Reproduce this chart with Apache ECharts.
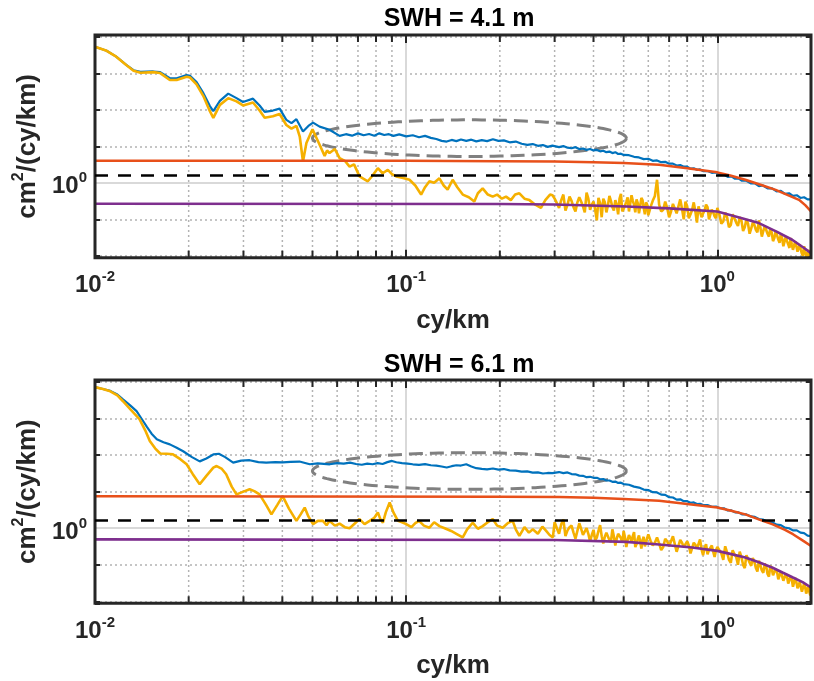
<!DOCTYPE html>
<html><head><meta charset="utf-8">
<script src="https://cdn.jsdelivr.net/npm/echarts@6/dist/echarts.min.js"></script>
<style>html,body{margin:0;padding:0;background:#fff}#c{width:814px;height:681px}</style>
</head><body><div id="c"></div>
<script>
const FONT = '"Liberation Sans", Arial, Helvetica, sans-serif';
const panelTitles = ['SWH = 4.1 m', 'SWH = 6.1 m'];
const xName = 'cy/km';
const xRange = [0.01, 2];
const yRange = [0.241, 16.6];
const xMinorGrid = [0.02,0.03,0.04,0.05,0.06,0.07,0.08,0.09,0.2,0.3,0.4,0.5,0.6,0.7,0.8,0.9];

// frequency grids of the noisy high-frequency part of the yellow spectra (two interleaved sets)
const hfFreq = [0.30,0.31,0.32,0.33,0.34,0.35,0.36,0.37,0.38,0.39,0.40,0.41,0.42,0.43,0.44,0.45,0.46,0.47,0.48,0.49,0.50,0.51,0.52,0.53,0.54,0.55,0.56,0.57,0.58,0.59,0.60,
  0.62,0.64,0.66,0.68,0.70,0.72,0.74,0.76,0.78,0.80,0.82,0.84,0.86,0.88,0.90,0.92,0.94,0.96,0.98,1.00,
  1.03,1.06,1.09,1.12,1.15,1.18,1.21,1.24,1.27,1.30,1.33,1.36,1.39,1.42,1.45,1.48,1.51,1.54,1.57,1.60,1.63,1.66,1.69,1.72,1.75,1.78,1.81,1.84,1.87,1.90,1.93,1.96,1.99,2.00];
const hfFreqB = [0.305,0.315,0.325,0.335,0.345,0.355,0.365,0.375,0.385,0.395,0.405,0.415,0.425,0.435,0.445,0.455,0.465,0.475,0.485,0.495,0.505,0.515,0.525,0.535,0.545,0.555,0.565,0.575,0.585,0.595,
  0.61,0.63,0.65,0.67,0.69,0.71,0.73,0.75,0.77,0.79,0.81,0.83,0.85,0.87,0.89,0.91,0.93,0.95,0.97,0.99,
  1.015,1.045,1.075,1.105,1.135,1.165,1.195,1.225,1.255,1.285,1.315,1.345,1.375,1.405,1.435,1.465,1.495,1.525,1.555,1.585,1.615,1.645,1.675,1.705,1.735,1.765,1.795,1.825,1.855,1.885,1.915,1.945,1.975];

// ---------- panel 1 (SWH = 4.1 m) ----------
const blue1 = [[0.0100,13.3],[0.0109,12.3],[0.0117,11.0],[0.0126,9.4],[0.0133,8.5],[0.0140,8.25],[0.0154,8.3],[0.0162,8.2],[0.0174,7.3],[0.0183,7.3],[0.0197,7.75],[0.0202,7.65],[0.0212,6.8],[0.0223,5.5],[0.0234,4.3],[0.0240,3.9],[0.0252,4.75],[0.0268,5.45],[0.0285,5.0],[0.0299,4.65],[0.0322,4.95],[0.0338,4.35],[0.0351,3.85],[0.0373,3.95],[0.0392,4.1],[0.0412,3.31],[0.0428,3.11],[0.0444,3.35],[0.0466,2.65],[0.0485,2.95],[0.0502,3.14],[0.0527,2.91],[0.0567,2.74],[0.0611,2.44],[0.064,2.52],[0.067,2.45],[0.070,2.56],[0.073,2.47],[0.076,2.53],[0.079,2.45],[0.082,2.56],[0.085,2.48],[0.088,2.52],[0.091,2.44],[0.095,2.51],[0.100,2.42],[0.105,2.47],[0.110,2.38],[0.115,2.44],[0.120,2.35],[0.125,2.30],[0.130,2.22],[0.135,2.19],[0.140,2.26],[0.145,2.21],[0.150,2.28],[0.156,2.22],[0.162,2.27],[0.168,2.20],[0.175,2.25],[0.182,2.21],[0.190,2.29],[0.198,2.22],[0.206,2.24],[0.215,2.16],[0.225,2.19],[0.235,2.10],[0.245,2.06],[0.255,2.09],[0.265,2.02],[0.275,2.05],[0.285,1.98],[0.295,2.03],
  [0.31,1.97],[0.32,2.01],[0.33,1.95],[0.34,1.93],[0.35,1.97],[0.36,1.90],[0.37,1.92],[0.38,1.87],[0.39,1.90],[0.40,1.85],[0.41,1.87],[0.42,1.82],[0.43,1.84],[0.44,1.79],[0.45,1.81],[0.46,1.76],[0.47,1.79],[0.48,1.73],[0.49,1.74],[0.50,1.70],[0.52,1.69],[0.54,1.64],[0.56,1.62],[0.58,1.57],[0.60,1.58],[0.62,1.52],[0.64,1.53],[0.66,1.48],[0.68,1.49],[0.70,1.44],[0.72,1.44],[0.74,1.39],[0.76,1.40],[0.78,1.36],[0.80,1.36],[0.82,1.31],[0.84,1.32],[0.86,1.28],[0.88,1.29],[0.90,1.25],[0.93,1.25],[0.96,1.21],[0.99,1.22],[1.02,1.17],[1.05,1.17],[1.08,1.12],[1.11,1.13],[1.14,1.08],[1.17,1.09],[1.20,1.04],[1.24,1.04],[1.28,0.99],[1.32,0.99],[1.36,0.94],[1.40,0.95],[1.45,0.90],[1.50,0.90],[1.55,0.85],[1.60,0.86],[1.65,0.81],[1.70,0.82],[1.75,0.78],[1.80,0.79],[1.85,0.75],[1.90,0.76],[1.95,0.73],[2.00,0.73]];
const yellowLow1 = [[0.0100,13.3],[0.0109,12.3],[0.0117,11.0],[0.0126,9.4],[0.0133,8.4],[0.0140,8.1],[0.0154,8.2],[0.0162,8.05],[0.0174,7.05],[0.0183,7.05],[0.0197,7.5],[0.0202,7.4],[0.0212,6.5],[0.0223,5.2],[0.0234,3.9],[0.0240,3.44],[0.0252,4.4],[0.0268,5.0],[0.0285,4.7],[0.0299,4.35],[0.0322,4.6],[0.0338,3.95],[0.0351,3.45],[0.0373,3.55],[0.0392,3.7],[0.0412,3.0],[0.0428,2.8],[0.0444,2.95],[0.0455,2.41],[0.0466,1.50],[0.0478,2.13],[0.0500,2.77],[0.0527,2.06],[0.0547,1.67],[0.0557,1.85],[0.0567,1.76],[0.0590,1.9],[0.0611,1.60],[0.0635,1.52],[0.0658,1.36],[0.0680,1.42],[0.0708,1.13],[0.0730,1.08],[0.0753,1.03],[0.0780,1.15],[0.0811,1.32],[0.0840,1.20],[0.0873,1.28],[0.0900,1.18],[0.0929,1.13],[0.0970,1.10],[0.1025,1.06],[0.1070,0.95],[0.1117,0.80],[0.1150,0.92],[0.1188,1.03],[0.1230,1.00],[0.1279,1.09],[0.1320,0.95],[0.1359,0.88],[0.1411,1.06],[0.1460,0.92],[0.1520,0.80],[0.1590,0.76],[0.1656,0.70],[0.1700,0.82],[0.1761,0.90],[0.1830,0.80],[0.1897,0.77],[0.1960,0.80],[0.2030,0.74],[0.2094,0.77],[0.2170,0.72],[0.2240,0.80],[0.2311,0.82],[0.2400,0.74],[0.2489,0.72],[0.2600,0.66],[0.2711,0.62],[0.2800,0.72],[0.2900,0.80],[0.2953,0.79]];
const yellowHf1 = [0.74,0.62,0.80,0.66,0.71,0.58,0.76,0.64,0.83,0.60,0.70,0.49,0.68,0.74,0.57,0.78,0.63,0.72,0.55,0.81,0.61,0.70,0.58,0.79,0.66,0.73,0.56,0.75,0.62,0.69,0.54,
  0.71,1.06,0.58,0.70,0.52,0.67,0.56,0.73,0.50,0.64,0.55,0.69,0.47,0.62,0.56,0.66,0.50,0.60,0.53,0.62,
  0.46,0.57,0.43,0.55,0.47,0.52,0.40,0.50,0.38,0.47,0.41,0.49,0.36,0.44,0.38,0.42,0.33,0.40,0.34,0.38,0.30,0.36,0.31,0.35,0.28,0.33,0.27,0.31,0.26,0.30,0.25,0.28,0.245,0.26];
const yellowHf1B = [0.68,0.72,0.59,0.77,0.63,0.69,0.70,0.57,0.74,0.66,0.60,0.75,0.52,0.69,0.65,0.71,0.59,0.66,0.74,0.58,0.65,0.76,0.60,0.71,0.57,0.68,0.64,0.72,0.55,0.66,
  0.63,0.78,0.66,0.60,0.62,0.58,0.68,0.55,0.61,0.70,0.51,0.60,0.58,0.64,0.52,0.59,0.63,0.55,0.57,0.51,
  0.55,0.48,0.52,0.45,0.53,0.44,0.49,0.43,0.46,0.42,0.45,0.39,0.43,0.40,0.41,0.36,0.39,0.35,0.37,0.32,0.35,0.30,0.33,0.29,0.31,0.28,0.30,0.26,0.28,0.25,0.27,0.24,0.25];
const orange1 = [[0.01,1.52],[0.1,1.52],[0.2,1.51],[0.3,1.50],[0.4,1.48],[0.5,1.46],[0.65,1.41],[0.8,1.32],[1.0,1.22],[1.1,1.15],[1.23,1.06],[1.4,0.95],[1.54,0.875],[1.7,0.784],[1.83,0.724],[1.92,0.652],[2.0,0.58]];
const purple1 = [[0.01,0.671],[0.2,0.668],[0.3,0.662],[0.51,0.638],[0.7,0.615],[1.0,0.58],[1.2,0.51],[1.36,0.465],[1.55,0.396],[1.74,0.339],[1.9,0.29],[2.0,0.263]];
const noiseLevel1 = 1.164;
const ellipse1 = [0.05, 1.65, 0.51, 3.31]; // [fLeft, vBottom, fRight, vTop]

// ---------- panel 2 (SWH = 6.1 m) ----------
const blue2 = [[0.0100,14.5],[0.0106,14.0],[0.0112,13.5],[0.0118,12.6],[0.0123,11.5],[0.0130,10.2],[0.0136,9.2],[0.0141,8.0],[0.0147,6.8],[0.0152,6.0],[0.0158,5.4],[0.0166,5.1],[0.0174,4.9],[0.0183,4.6],[0.0192,4.3],[0.0205,3.85],[0.0217,3.55],[0.0228,3.75],[0.0240,4.05],[0.0250,4.1],[0.0262,3.85],[0.0278,3.47],[0.0295,3.6],[0.0314,3.63],[0.0335,3.5],[0.0355,3.47],[0.0380,3.5],[0.0401,3.49],[0.0425,3.52],[0.0454,3.54],[0.0490,3.36],[0.0520,3.42],[0.0568,3.36],[0.060,3.44],[0.063,3.40],[0.066,3.47],[0.069,3.38],[0.072,3.33],[0.075,3.40],[0.078,3.36],[0.081,3.43],[0.084,3.38],[0.087,3.50],[0.090,3.58],[0.093,3.49],[0.097,3.44],[0.101,3.40],[0.105,3.36],[0.110,3.32],[0.115,3.37],[0.120,3.30],[0.125,3.28],[0.130,3.22],[0.135,3.16],[0.140,3.24],[0.145,3.30],[0.150,3.28],[0.156,3.36],[0.162,3.22],[0.168,3.12],[0.175,3.08],[0.182,3.05],[0.190,3.10],[0.198,3.04],[0.206,3.07],[0.215,2.99],[0.225,2.98],[0.235,2.92],[0.245,2.94],[0.255,2.87],[0.265,2.88],[0.275,2.82],[0.285,2.85],[0.295,2.84],
  [0.31,2.90],[0.32,2.84],[0.33,2.88],[0.34,2.79],[0.35,2.78],[0.36,2.71],[0.37,2.70],[0.38,2.63],[0.39,2.65],[0.40,2.60],[0.41,2.60],[0.42,2.53],[0.43,2.54],[0.44,2.47],[0.45,2.47],[0.46,2.41],[0.47,2.42],[0.48,2.36],[0.49,2.37],[0.50,2.31],[0.52,2.28],[0.54,2.20],[0.56,2.16],[0.58,2.08],[0.60,2.06],[0.62,1.98],[0.64,1.97],[0.66,1.89],[0.68,1.88],[0.70,1.80],[0.72,1.79],[0.74,1.72],[0.76,1.73],[0.78,1.67],[0.80,1.67],[0.82,1.62],[0.84,1.63],[0.86,1.58],[0.88,1.59],[0.90,1.55],[0.93,1.55],[0.96,1.50],[0.99,1.51],[1.02,1.46],[1.05,1.46],[1.08,1.40],[1.11,1.40],[1.14,1.35],[1.17,1.35],[1.20,1.30],[1.24,1.30],[1.28,1.25],[1.32,1.24],[1.36,1.19],[1.40,1.18],[1.45,1.13],[1.50,1.12],[1.55,1.07],[1.60,1.06],[1.65,1.01],[1.70,1.00],[1.75,0.96],[1.80,0.96],[1.85,0.92],[1.90,0.91],[1.95,0.87],[2.00,0.86]];
const yellowLow2 = [[0.0100,14.5],[0.0106,14.0],[0.0112,13.4],[0.0118,12.4],[0.0123,11.1],[0.0130,9.5],[0.0139,7.9],[0.0145,6.4],[0.0150,5.22],[0.0156,4.55],[0.0162,4.12],[0.0170,4.1],[0.0178,4.06],[0.0188,3.7],[0.0197,3.36],[0.0206,2.8],[0.0217,2.30],[0.0228,2.7],[0.0240,3.15],[0.0246,3.25],[0.0255,3.1],[0.0264,2.78],[0.0275,2.2],[0.0285,1.90],[0.0300,2.0],[0.0314,2.09],[0.0325,2.02],[0.0338,1.90],[0.0355,1.55],[0.0369,1.30],[0.0385,1.55],[0.0401,1.84],[0.0420,1.45],[0.0444,1.15],[0.0458,1.3],[0.0472,1.48],[0.0485,1.25],[0.0502,1.08],[0.0520,1.15],[0.0540,1.15],[0.0555,1.06],[0.0567,1.15],[0.0590,1.05],[0.0611,1.09],[0.0635,1.02],[0.0658,1.00],[0.0685,1.10],[0.0708,1.19],[0.0735,1.08],[0.0763,1.15],[0.0790,1.22],[0.0811,1.35],[0.0825,1.2],[0.0842,1.11],[0.0860,1.35],[0.0885,1.63],[0.0910,1.35],[0.0941,1.15],[0.0970,1.12],[0.1000,1.08],[0.1040,1.02],[0.1070,1.10],[0.1100,1.15],[0.1140,1.05],[0.1188,1.01],[0.1230,1.12],[0.1279,1.04],[0.1330,1.00],[0.1395,0.95],[0.1450,0.90],[0.1520,0.84],[0.1570,0.98],[0.1636,1.11],[0.1700,0.99],[0.1761,1.04],[0.1830,1.12],[0.1897,1.19],[0.1960,1.05],[0.2043,1.01],[0.2120,1.10],[0.2199,1.15],[0.2250,0.98],[0.2311,0.864],[0.2400,1.02],[0.2480,0.92],[0.2552,0.98],[0.2650,0.90],[0.2740,1.03],[0.2818,0.95],[0.2890,0.88],[0.2961,0.84]];
const yellowHf2 = [1.12,0.90,1.18,0.96,1.05,0.82,1.10,0.88,1.00,0.78,0.97,0.84,1.06,0.75,0.92,0.80,0.98,0.72,0.90,0.83,0.95,0.70,0.88,0.78,0.93,0.74,0.87,0.68,0.85,0.76,0.89,
  0.72,0.84,0.66,0.82,0.71,0.86,0.64,0.80,0.70,0.78,0.62,0.76,0.68,0.81,0.60,0.74,0.66,0.72,0.58,0.70,
  0.62,0.71,0.55,0.66,0.58,0.64,0.50,0.60,0.52,0.57,0.47,0.54,0.45,0.51,0.42,0.49,0.41,0.46,0.38,0.44,0.37,0.42,0.35,0.40,0.33,0.39,0.32,0.36,0.30,0.35,0.29,0.33,0.28,0.31];
const yellowHf2B = [1.00,1.08,0.86,1.02,0.92,0.95,0.99,0.85,0.90,0.88,0.80,0.95,0.86,0.85,0.91,0.77,0.86,0.82,0.88,0.76,0.84,0.80,0.83,0.86,0.70,0.82,0.78,0.80,0.71,0.83,
  0.79,0.76,0.75,0.70,0.78,0.72,0.74,0.66,0.76,0.69,0.72,0.62,0.73,0.70,0.67,0.69,0.61,0.68,0.64,0.66,
  0.66,0.55,0.63,0.52,0.61,0.50,0.58,0.47,0.56,0.49,0.53,0.44,0.52,0.43,0.49,0.40,0.47,0.41,0.44,0.37,0.43,0.36,0.40,0.34,0.38,0.32,0.36,0.31,0.35,0.29,0.33,0.28,0.30];
const orange2 = [[0.01,1.83],[0.2,1.82],[0.31,1.81],[0.4,1.78],[0.5,1.74],[0.65,1.68],[0.8,1.58],[1.0,1.48],[1.1,1.40],[1.23,1.30],[1.4,1.15],[1.5,1.08],[1.65,0.97],[1.75,0.893],[1.9,0.78],[2.0,0.715]];
const purple2 = [[0.01,0.81],[0.3,0.80],[0.51,0.772],[0.65,0.735],[0.83,0.694],[1.0,0.651],[1.1,0.615],[1.23,0.574],[1.36,0.525],[1.5,0.475],[1.62,0.432],[1.75,0.393],[1.88,0.36],[2.0,0.325]];
const noiseLevel2 = 1.17;
const ellipse2 = [0.05, 2.09, 0.51, 4.19];

function buildYellow(low, hfA, hfB) {
  const hf = hfFreq.map((f, k) => [f, hfA[k]]).concat(hfFreqB.map((f, k) => [f, hfB[k]]));
  hf.sort((p, q) => p[0] - q[0]);
  return low.concat(hf);
}
const panels = [
  {blue: blue1, yellow: buildYellow(yellowLow1, yellowHf1, yellowHf1B), orange: orange1, purple: purple1, noise: noiseLevel1, ellipse: ellipse1},
  {blue: blue2, yellow: buildYellow(yellowLow2, yellowHf2, yellowHf2B), orange: orange2, purple: purple2, noise: noiseLevel2, ellipse: ellipse2}
];

const INK = '#262626';
const tickRich = {
  b: {fontFamily: FONT, fontSize: 24, fontWeight: 'bold', color: INK, lineHeight: 32},
  s: {fontFamily: FONT, fontSize: 15, fontWeight: 'bold', color: INK, lineHeight: 14, verticalAlign: 'top'}
};
function xTickLabel(v) {
  const e = Math.log10(v), r = Math.round(e);
  return Math.abs(e - r) < 1e-6 ? '{b|10}{s|' + r + '}' : '';
}
function yTickLabel(v) {
  return Math.abs(v - 1) < 1e-9 ? '{b|10}{s|0}' : '';
}
function minorRender(params, api) {
  const cs = params.coordSys;
  const x = api.coord([api.value(0), api.value(1)])[0];
  const top = cs.y, bot = cs.y + cs.height;
  return {type: 'group', children: [
    {type: 'line', shape: {x1: x, y1: top, x2: x, y2: bot}, style: {stroke: '#b3b3b3', lineWidth: 1.5, lineDash: [2, 3]}},
    {type: 'line', shape: {x1: x, y1: bot, x2: x, y2: bot - 7}, style: {stroke: INK, lineWidth: 2}},
    {type: 'line', shape: {x1: x, y1: top, x2: x, y2: top + 7}, style: {stroke: INK, lineWidth: 2}}
  ]};
}
function ellipseRender(params, api) {
  const a = api.coord([api.value(0), api.value(1)]);
  const b = api.coord([api.value(2), api.value(3)]);
  const cx = (a[0] + b[0]) / 2, cy = (a[1] + b[1]) / 2;
  const rx = Math.abs(b[0] - a[0]) / 2, ry = Math.abs(b[1] - a[1]) / 2;
  const pts = [];
  for (let k = 0; k <= 160; k++) { const t = 2 * Math.PI * k / 160; pts.push([cx + rx * Math.cos(t), cy + ry * Math.sin(t)]); }
  return {type: 'polyline', shape: {points: pts}, style: {stroke: '#808080', lineWidth: 3, lineDash: [14, 7], fill: null}};
}

const gridTops = [35, 380], gridHeights = [222.7, 223.3];
const option = {animation: false, title: [], grid: [], xAxis: [], yAxis: [], series: []};
panels.forEach((d, i) => {
  option.title.push({text: panelTitles[i], left: 454, top: i === 0 ? 2 : 348, textAlign: 'center',
    textStyle: {fontFamily: FONT, fontSize: 25, fontWeight: 'bold', color: '#000'}});
  option.grid.push({left: 95, right: 1, top: gridTops[i], height: gridHeights[i], show: true, z: 4,
    borderColor: INK, borderWidth: 3, backgroundColor: 'transparent'});
  const xCommon = {type: 'log', logBase: 10, min: xRange[0], max: xRange[1], gridIndex: i, axisLine: {show: false}};
  option.xAxis.push(Object.assign({}, xCommon, {position: 'bottom',
    axisTick: {inside: true, length: 8, lineStyle: {color: INK, width: 2}},
    axisLabel: {formatter: xTickLabel, rich: tickRich, margin: 12, showMinLabel: true, showMaxLabel: true},
    splitLine: {show: true, showMinLine: false, showMaxLine: false, lineStyle: {color: '#d9d9d9', width: 2}},
    name: xName, nameLocation: 'middle', nameGap: 50,
    nameTextStyle: {fontFamily: FONT, fontSize: 26, fontWeight: 'bold', color: INK}}));
  option.xAxis.push(Object.assign({}, xCommon, {position: 'top',
    axisTick: {inside: true, length: 8, lineStyle: {color: INK, width: 2}},
    axisLabel: {show: false}, splitLine: {show: false}}));
  const yCommon = {type: 'log', logBase: 2, min: yRange[0], max: yRange[1], splitNumber: 6, gridIndex: i, axisLine: {show: false},
    axisTick: {inside: true, length: 5, lineStyle: {color: INK, width: 2}}};
  option.yAxis.push(Object.assign({}, yCommon, {position: 'left',
    axisLabel: {formatter: yTickLabel, rich: tickRich, margin: 8, padding: [8, 0, 0, 0]},
    splitLine: {show: true, showMinLine: false, showMaxLine: false, lineStyle: {color: '#b3b3b3', width: 1.5, type: [2, 3]}},
    name: '{b|cm}{s|2}{b|/(cy/km)}', nameLocation: 'middle', nameRotate: 90, nameGap: 48,
    nameTextStyle: {rich: {
      b: {fontFamily: FONT, fontSize: 26, fontWeight: 'bold', color: INK, lineHeight: 34},
      s: {fontFamily: FONT, fontSize: 16, fontWeight: 'bold', color: INK, lineHeight: 18, verticalAlign: 'top'}}}}));
  option.yAxis.push(Object.assign({}, yCommon, {position: 'right', axisLabel: {show: false}, splitLine: {show: false}}));
  const xa = 2 * i, ya = 2 * i;
  option.series.push(
    {type: 'custom', xAxisIndex: xa, yAxisIndex: ya, silent: true, z: 1, renderItem: minorRender,
      data: xMinorGrid.map(f => [f, 1]), encode: {x: 0, y: 1},
      markLine: {silent: true, symbol: 'none', z: 1, label: {show: false}, animation: false,
        lineStyle: {color: '#d9d9d9', width: 2, type: 'solid'}, data: [{yAxis: 1}]}},
    {type: 'line', xAxisIndex: xa, yAxisIndex: ya, data: d.blue, showSymbol: false, silent: true,
      lineStyle: {color: '#0072BD', width: 2.2}},
    {type: 'line', xAxisIndex: xa, yAxisIndex: ya, data: d.yellow, showSymbol: false, silent: true,
      lineStyle: {color: '#F5B000', width: 2.6}},
    {type: 'line', xAxisIndex: xa, yAxisIndex: ya, data: d.orange, showSymbol: false, silent: true,
      lineStyle: {color: '#E8501A', width: 2.5}},
    {type: 'line', xAxisIndex: xa, yAxisIndex: ya, data: d.purple, showSymbol: false, silent: true,
      lineStyle: {color: '#7E2F8E', width: 2.6},
      markLine: {silent: true, symbol: 'none', z: 5, label: {show: false}, animation: false,
        lineStyle: {color: '#000', width: 2.5, type: [13, 10]}, data: [{yAxis: d.noise}]}},
    {type: 'custom', xAxisIndex: xa, yAxisIndex: ya, silent: true, z: 3, renderItem: ellipseRender,
      data: [d.ellipse], encode: {x: [0, 2], y: [1, 3]}}
  );
});
const chart = echarts.init(document.getElementById('c'), null, {renderer: 'canvas'});
chart.setOption(option);
</script>
</body></html>
